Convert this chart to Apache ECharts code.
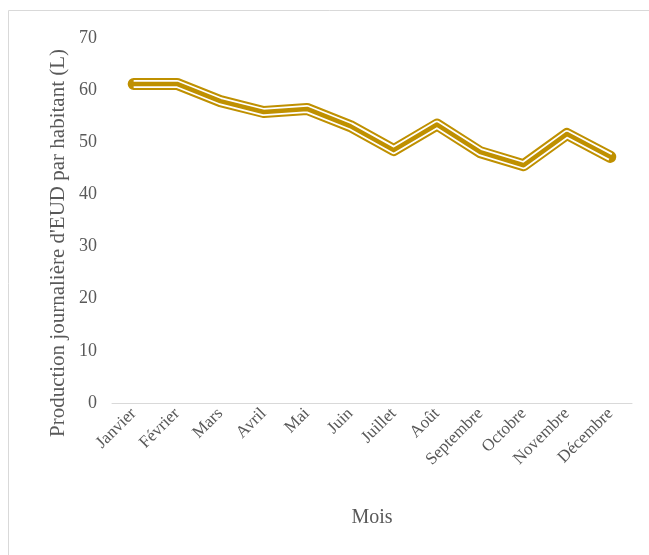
<!DOCTYPE html>
<html>
<head>
<meta charset="utf-8">
<script src="https://cdn.jsdelivr.net/npm/echarts@6/dist/echarts.min.js"></script>
<style>
  html, body { margin: 0; padding: 0; background: #fff; }
  #chart { width: 649px; height: 555px; }
</style>
</head>
<body>
<div id="chart"></div>
<script>
const months = ['Janvier', 'Février', 'Mars', 'Avril', 'Mai', 'Juin', 'Juillet', 'Août', 'Septembre', 'Octobre', 'Novembre', 'Décembre'];
const production = [61.2, 61.2, 57.9, 55.8, 56.4, 53.1, 48.5, 53.4, 48.1, 45.6, 51.6, 47.2];
const yTitle = "Production journalière d'EUD par habitant (L)";

const gold = '#BF9000';
const labelColor = '#595959';
const font = '"Liberation Serif", "Times New Roman", serif';

const chart = echarts.init(document.getElementById('chart'));

// compound "double" line: thick gold, white gap, gold core
const layer = (color, width, cap) => ({
    type: 'line',
    data: production,
    symbol: 'none',
    silent: true,
    lineStyle: { color: color, width: width, cap: cap, join: 'round' }
});

chart.setOption({
    animation: false,
    textStyle: { fontFamily: font },
    graphic: [{
        type: 'rect',
        shape: { x: 8.5, y: 10.5, width: 700, height: 600 },
        style: { fill: 'none', stroke: '#d9d9d9', lineWidth: 1 },
        silent: true
    }, {
        type: 'text',
        x: 58,
        y: 243,
        rotation: Math.PI / 2,
        style: {
            text: yTitle,
            fill: labelColor,
            font: '21px ' + font,
            align: 'center',
            verticalAlign: 'middle'
        },
        silent: true
    }],
    grid: { left: 112, right: 17, top: 38, bottom: 152 },
    xAxis: {
        type: 'category',
        data: months,
        boundaryGap: true,
        name: 'Mois',
        nameLocation: 'middle',
        nameGap: 105,
        nameTextStyle: { color: labelColor, fontSize: 20, fontFamily: font },
        axisLine: { lineStyle: { color: '#d9d9d9', width: 1 } },
        axisTick: { show: false },
        axisLabel: { rotate: 45, color: labelColor, fontSize: 17, fontFamily: font, margin: 8, interval: 0 }
    },
    yAxis: {
        type: 'value',
        min: 0,
        max: 70,
        interval: 10,
        axisLine: { show: false },
        axisTick: { show: false },
        splitLine: { show: false },
        axisLabel: { color: labelColor, fontSize: 18, fontFamily: font, margin: 15 }
    },
    series: [
        layer(gold, 12, 'round'),
        layer('#ffffff', 8, 'butt'),
        layer(gold, 4.5, 'round')
    ]
});
</script>
</body>
</html>
